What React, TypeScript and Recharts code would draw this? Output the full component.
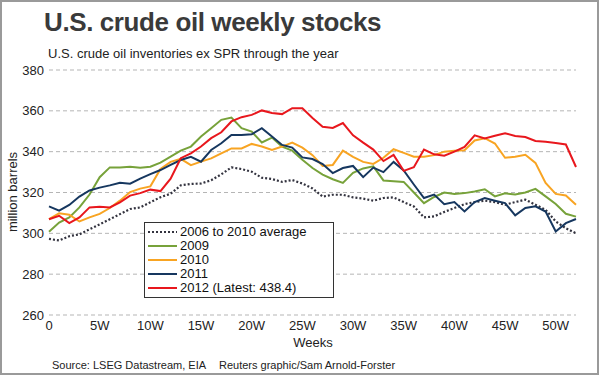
import React from 'react';
import { LineChart, Line, XAxis, YAxis, CartesianGrid, Legend } from 'recharts';

const weeks: number[] = Array.from({ length: 53 }, (_, i) => i);

const avg0610 = [297.3, 296.5, 298.6, 299.5, 302, 304.4, 306.9, 309.4, 311.9, 312.7, 315.2, 317.7, 319.4, 323.5, 324.2, 324.4, 326, 328.9, 332.3, 331.5, 330.2, 327.2, 326.6, 325.2, 326.1, 324.4, 322, 318, 318.9, 318.9, 317.6, 317, 316, 317.3, 317.6, 315.3, 313.2, 307.8, 308.3, 310.5, 312.4, 314.3, 315.3, 316, 315.3, 314, 315.3, 316.5, 314, 311.5, 305.8, 302.5, 300];
const y2009 = [300.8, 305.3, 307.8, 312.7, 319, 327.5, 332.3, 332.3, 332.6, 332.1, 332.6, 334.6, 337.6, 340.5, 342.5, 347.4, 351.5, 355.6, 356.7, 351.5, 349.8, 344.5, 346.9, 342.5, 340.5, 336, 332, 328.8, 326.5, 324.7, 329.6, 331.8, 332.8, 325.9, 325.5, 325.2, 320, 314.8, 317.8, 320, 319.3, 319.7, 320.5, 321.6, 318.1, 319.6, 319, 320, 321.8, 318.1, 314.4, 309.6, 308.2];
const y2010 = [307, 309.8, 309.1, 305.8, 307.8, 309.5, 312.4, 316, 320.2, 321.9, 323, 331.5, 335, 336.5, 333.4, 335.1, 336.7, 339.2, 341.6, 341.6, 343.8, 342.5, 340.8, 342.5, 344.4, 342, 338.3, 333, 333.5, 340.5, 337.5, 335, 334, 337, 341.2, 339.4, 337.5, 337.5, 338.3, 340, 340.5, 340.7, 345.5, 346.6, 344, 337, 337.5, 338.5, 334.5, 324.7, 319.3, 318.5, 314];
const y2011 = [313.2, 311.1, 313.9, 318, 321, 322.4, 323.5, 324.8, 324.3, 326.8, 329, 331, 333.5, 335.9, 337.5, 335.1, 340.8, 344.1, 348.2, 348.2, 348.5, 351.5, 347.4, 343.3, 342, 337.2, 336.4, 333.9, 329.5, 332, 333, 327.5, 332.2, 330, 335, 330.8, 323.9, 317.3, 319, 314.3, 315.3, 310.7, 315.3, 317.3, 316, 314.8, 308.8, 312.4, 313.2, 310.7, 300.9, 305, 307];
const y2012 = [306.9, 308.6, 305, 307.8, 312.7, 313, 312.7, 315.2, 318.5, 319.7, 321.4, 320.7, 326.8, 336.8, 339.2, 342.5, 346.6, 349.5, 354.8, 356.9, 358, 360.2, 358.9, 358.4, 361.3, 361.3, 356.5, 352.2, 351.6, 354, 348, 344.4, 341, 335.4, 338.4, 330.6, 332.4, 341, 338.7, 338, 340, 342.3, 348, 346.5, 347.8, 349, 347.7, 347.2, 345.2, 344.8, 344.2, 343.5, 332.5];

const xTicks = [0, 5, 10, 15, 20, 25, 30, 35, 40, 45, 50];
const yTicks = [260, 280, 300, 320, 340, 360, 380];

const seriesNames = ['2006 to 2010 average', '2009', '2010', '2011', '2012 (Latest: 438.4)'];
const seriesKeys = ['avg', 'y2009', 'y2010', 'y2011', 'y2012'];
const seriesColors = ['#33333f', '#77a23a', '#f8a422', '#16375f', '#e8171d'];

const data = weeks.map((w, i) => ({
  week: w,
  avg: avg0610[i],
  y2009: y2009[i],
  y2010: y2010[i],
  y2011: y2011[i],
  y2012: y2012[i],
}));

const FONT = 'Arial, "Liberation Sans", Helvetica, sans-serif';

const LegendBox = () => (
  <div
    style={{
      width: 190,
      height: 76,
      border: '1px solid #333',
      background: '#fff',
      boxSizing: 'border-box',
      paddingTop: 2,
      fontFamily: FONT,
      fontSize: 13,
      color: '#111',
    }}
  >
    {seriesNames.map((n, i) => (
      <div key={n} style={{ height: 14, display: 'flex', alignItems: 'center', lineHeight: '14px' }}>
        <svg width={35} height={14} style={{ flex: 'none' }}>
          <line
            x1={3}
            x2={32}
            y1={7}
            y2={7}
            stroke={seriesColors[i]}
            strokeWidth={2}
            strokeDasharray={i === 0 ? '2 2' : undefined}
          />
        </svg>
        <span>{n}</span>
      </div>
    ))}
  </div>
);

export default function App() {
  return (
    <div
      style={{
        position: 'absolute',
        left: 0,
        top: 0,
        width: 600,
        height: 376,
        background: '#fff',
        fontFamily: FONT,
      }}
    >
      <LineChart
        width={600}
        height={376}
        data={data}
        margin={{ top: 70, right: 24, bottom: 31, left: 0 }}
      >
        <CartesianGrid vertical={false} stroke="#b5b5b5" strokeDasharray="4 3" />
        <XAxis
          dataKey="week"
          type="number"
          domain={[0, 52]}
          ticks={xTicks}
          tickFormatter={(w: number) => (w === 0 ? '0' : `${w}W`)}
          axisLine={false}
          tickLine={false}
          tickSize={3}
          tickMargin={3}
          height={30}
          tick={{ fill: '#222', fontSize: 13, fontFamily: FONT }}
          interval={0}
        />
        <YAxis
          type="number"
          domain={[260, 380]}
          ticks={yTicks}
          axisLine={false}
          tickLine={false}
          tickSize={2}
          tickMargin={3}
          width={49}
          tick={{ fill: '#222', fontSize: 13, fontFamily: FONT }}
          interval={0}
        />
        <Legend
          layout="vertical"
          align="center"
          verticalAlign="middle"
          content={() => <LegendBox />}
          wrapperStyle={{ position: 'absolute', left: 144, top: 222, width: 190, height: 76 }}
        />
        {seriesKeys.map((k, i) => (
          <Line
            key={k}
            type="linear"
            dataKey={k}
            name={seriesNames[i]}
            stroke={seriesColors[i]}
            strokeWidth={i === 0 ? 2.2 : 2}
            strokeDasharray={i === 0 ? '2 2' : undefined}
            dot={false}
            activeDot={false}
            isAnimationActive={false}
          />
        ))}
      </LineChart>
      <svg
        width={600}
        height={376}
        style={{ position: 'absolute', left: 0, top: 0, pointerEvents: 'none' }}
      >
        <rect x={1} y={1} width={597} height={373} fill="none" stroke="#9a9a9a" strokeWidth={2} />
        <text x={44} y={31} fontFamily={FONT} fontSize={26} fontWeight="bold" fill="#3a3a3a" letterSpacing={-0.4}>
          U.S. crude oil weekly stocks
        </text>
        <text x={48} y={58} fontFamily={FONT} fontSize={13} fill="#222">
          U.S. crude oil inventories ex SPR through the year
        </text>
        <text
          x={17}
          y={192}
          fontFamily={FONT}
          fontSize={13}
          fill="#222"
          textAnchor="middle"
          transform="rotate(-90 17 192)"
        >
          million barrels
        </text>
        <text x={313} y={347} fontFamily={FONT} fontSize={13} fill="#222" textAnchor="middle">
          Weeks
        </text>
        <text x={52} y={369} fontFamily={FONT} fontSize={11} fill="#222">
          Source: LSEG Datastream, EIA
        </text>
        <text x={219} y={369} fontFamily={FONT} fontSize={11} fill="#222">
          Reuters graphic/Sam Arnold-Forster
        </text>
      </svg>
    </div>
  );
}
